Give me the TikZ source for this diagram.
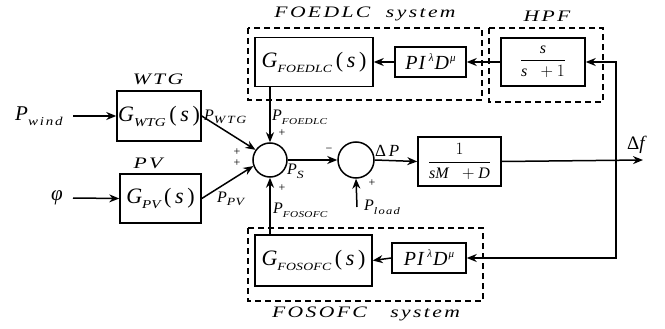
\documentclass[tikz,border=0pt]{standalone}
\usepackage{fontspec}
\setmainfont{Liberation Serif}
\usepackage{amsmath}
\usetikzlibrary{arrows.meta}
\newcommand\sbs[3][11]{\raisebox{-0.5ex}{\fontsize{#1}{#1}\selectfont\itshape\addfontfeature{FakeStretch=1.25,LetterSpace=#2}#3}}
\newcommand\sps[1]{\raisebox{0.85ex}{\fontsize{11}{11}\selectfont\itshape #1}}
\newcommand\bigtxt{\fontsize{22}{24}\selectfont}
\newcommand\widetxt{\fontsize{16}{18}\selectfont\itshape\addfontfeature{FakeStretch=1.35,LetterSpace=15}}
\begin{document}
\begin{tikzpicture}[x=1pt,y=-1pt,
  blk/.style={draw,line width=1.5pt,minimum width=#1,inner sep=0pt},
  blk/.default=80pt,
  sumc/.style={draw,circle,line width=1.5pt,minimum size=33pt,inner sep=0pt},
  grp/.style={draw,line width=1.5pt,dash pattern=on 6pt off 4pt},
  con/.style={line width=1.5pt,-{Stealth[length=10pt,width=8pt]}},
  lab/.style={inner sep=0pt,font=\widetxt},
  pl/.style={inner sep=0pt,font=\fontsize{16}{16}\selectfont\itshape},
  sg/.style={inner sep=0pt,font=\fontsize{12}{12}\selectfont}]
\useasboundingbox (0,0) rectangle (665,329);
% dashed groups
\draw[grp] (248,28) rectangle (482,100);
\draw[grp] (489,28) rectangle (603,102);
\draw[grp] (248,228) rectangle (483,301);
\node[lab] (tfoedlc) at (365,14) {FOEDLC\ \ system};
\node[lab] (thpf) at (547,16) {HPF};
\node[lab] (tfosofc) at (366,314) {FOSOFC\ \ \ system};
\node[lab] (twtg) at (158,79) {WTG};
\node[lab] (tpv) at (148,163) {PV};
% blocks
\node[blk=84pt,minimum height=50pt,font=\bigtxt] (wtg) at (159,116) {\textit{G}\sbs[12]{0}{WTG}\,(\,\textit{s}\,)};
\node[blk=81pt,minimum height=49pt,font=\bigtxt] (pv) at (160.5,198.5) {\textit{G}\sbs[12]{0}{PV}\,(\,\textit{s}\,)};
\node[blk=118pt,minimum height=49pt,font=\bigtxt] (gfe) at (314,62) {\textit{G}\sbs[11]{2}{FOEDLC}\,(\,\textit{s}\,)};
\node[blk=71pt,minimum height=30pt,font=\fontsize{20}{22}\selectfont] (pi1) at (430.5,62) {\textit{P\kern1pt I}\kern3pt\sps{λ}\kern1pt\textit{D}\kern1pt\sps{μ}};
\node[blk=84pt,minimum height=48pt,font=\fontsize{16}{18}\selectfont] (hpf) at (543,62) {$\dfrac{\textit{s}}{\textit{s}\;\;+1}$};
\node[blk=117pt,minimum height=51pt,font=\bigtxt] (gfs) at (313.5,260.5) {\textit{G}\sbs[11]{2}{FOSOFC}\,(\,\textit{s}\,)};
\node[blk=74pt,minimum height=30pt,font=\fontsize{20}{22}\selectfont] (pi2) at (429,258) {\textit{P\kern1pt I}\kern3pt\sps{λ}\kern1pt\textit{D}\kern1pt\sps{μ}};
\node[blk=83pt,minimum height=49pt,font=\fontsize{16}{18}\selectfont] (plant) at (459.5,161.5) {$\dfrac{1}{\textit{sM}\;\;+\textit{D}}$};
\node[sumc,minimum size=34pt] (s1) at (270,160) {};
\node[sumc,minimum size=36pt] (s2) at (356,160) {};
% inputs
\node[inner sep=0pt,font=\fontsize{21}{23}\selectfont,anchor=west] (pwind) at (15,116) {\textit{P}\sbs[12]{15}{wind}};
\node[inner sep=0pt,font=\fontsize{21}{23}\selectfont] (phi) at (57,198) {\textit{φ}};
\coordinate (pl) at (357,207);
\coordinate (out) at (643,160);
\coordinate (tap) at (616,160);
% connectors
\draw[con] (73,116) -- (wtg.west);
\draw[con] (73,198) -- (pv.west);
\draw[con] (wtg.east) -- (s1.145);
\draw[con] (pv.east) -- (s1.200);
\draw[con] (gfe.south -| s1) -- (s1.north);
\draw[con] (gfs.north -| s1) -- (s1.south);
\draw[con] (s1.east) -- (s2.west);
\draw[con] (pl) -- (s2.south);
\draw[con] (s2.east) -- (plant.west);
\draw[con] (plant.east) -- (out);
\draw[con] (tap) |- (hpf.east);
\draw[con] (tap) |- (pi2.east);
\draw[con] (hpf.west) -- (pi1.east);
\draw[con] (pi1.west) -- (gfe.east);
\draw[con] (pi2.west) -- (gfs.east);
% labels
\node[pl,anchor=west] (lwtg) at (204,117) {P\sbs[11]{15}{WTG}};
\node[pl,anchor=west] (lpv) at (217,199) {P\sbs[11]{3}{PV}};
\node[pl,anchor=west] (lfe) at (272,117) {P\sbs[9]{3}{FOEDLC}};
\node[pl,anchor=west] (lfs) at (273,210) {P\sbs[9]{3}{FOSOFC}};
\node[pl,anchor=west] (lps) at (287,171) {P\sbs[11]{5}{S}};
\node[pl,anchor=west] (lpl) at (364,207) {P\sbs[10]{12}{load}};
\node[pl,anchor=west,font=\fontsize{17}{17}\selectfont\itshape] (ldp) at (375,151) {\upshape Δ\,\itshape P};
\node[inner sep=0pt,anchor=west,font=\fontsize{19}{19}\selectfont] (ldf) at (627,145) {Δ\textit{f}};
\node[sg] (p1) at (237,152) {+};
\node[sg] (p2) at (237,163) {+};
\node[sg] (p3) at (282,133) {+};
\node[sg] (p4) at (282,188) {+};
\node[sg] (m1) at (329,150) {−};
\node[sg] (p5) at (372,183) {+};
\end{tikzpicture}
\end{document}
